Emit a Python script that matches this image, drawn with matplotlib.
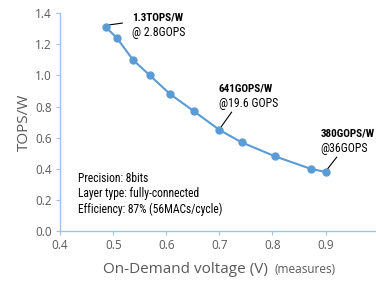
import matplotlib

matplotlib.use("Agg")
import matplotlib.pyplot as plt
from matplotlib import font_manager

# 数据：电压 (V) 与能效 (TOPS/W)
voltage = [0.486, 0.507, 0.537, 0.569, 0.607, 0.652, 0.700, 0.742, 0.805, 0.872, 0.900]
tops_w = [1.31, 1.24, 1.10, 1.00, 0.88, 0.77, 0.65, 0.57, 0.48, 0.40, 0.38]

x_ticks = [0.4, 0.5, 0.6, 0.7, 0.8, 0.9]
y_ticks = [0.0, 0.2, 0.4, 0.6, 0.8, 1.0, 1.2, 1.4]

# 标注文字
note_bold = ["1.3TOPS/W", "641GOPS/W", "380GOPS/W"]
note_plain = ["@ 2.8GOPS", "@19.6 GOPS", "@36GOPS"]
info_lines = [
    "Precision: 8bits",
    "Layer type: fully-connected",
    "Efficiency: 87% (56MACs/cycle)",
]

# 找一个带粗体的窄字体
fonts = font_manager.fontManager.ttflist
narrow = "DejaVu Sans"
for cand in ["Liberation Sans Narrow", "Roboto Condensed", "Archivo Narrow", "Barlow Semi Condensed"]:
    weights = [f.weight for f in fonts if f.name == cand]
    if any(isinstance(w, int) and w >= 700 or w == "bold" for w in weights):
        narrow = cand
        break

line_color = "#5B9BD5"
axis_color = "#9DC3E6"
gray = "#595959"

fig = plt.figure(figsize=(3.76, 2.85), dpi=100)
ax = fig.add_axes([0.16, 0.189, 0.84, 0.765])

ax.plot(voltage, tops_w, color=line_color, linewidth=1.5, marker="o",
        markersize=5, zorder=3)

ax.set_xlim(0.4, 0.995)
ax.set_ylim(0, 1.4)
ax.set_xticks(x_ticks)
ax.set_yticks(y_ticks)
ax.set_xticklabels([f"{v:.1f}" for v in x_ticks], family="Open Sans", fontsize=8.5, color=gray)
ax.set_yticklabels([f"{v:.1f}" for v in y_ticks], family="Open Sans", fontsize=8.5, color=gray)
ax.tick_params(direction="out", length=3, color=axis_color, pad=3)

for side in ["top", "right"]:
    ax.spines[side].set_visible(False)
for side in ["left", "bottom"]:
    ax.spines[side].set_color(axis_color)
    ax.spines[side].set_linewidth(1.0)

ax.set_ylabel("TOPS/W", family="Open Sans", fontsize=11, color=gray, labelpad=2)

fig.text(0.713, 0.028, "On-Demand voltage (V)", family="Open Sans", fontsize=11,
         color=gray, ha="right", va="bottom")
fig.text(0.729, 0.033, "(measures)", family="Open Sans", fontsize=8.5,
         color=gray, ha="left", va="bottom")

# 点标注：文字位置 + 引线 (数据坐标)
text_pos = [(0.535, 1.374), (0.699, 0.918), (0.891, 0.629)]
leaders = [((0.490, 0.517), (1.323, 1.336)),
           ((0.703, 0.723), (0.668, 0.764)),
           ((0.902, 0.921), (0.392, 0.475))]
for bold, plain, (tx, ty), (lx, ly) in zip(note_bold, note_plain, text_pos, leaders):
    ax.text(tx, ty, bold, family=narrow, fontsize=8, fontweight="bold",
            ha="left", va="center")
    ax.text(tx, ty - 0.096, plain, family=narrow, fontsize=8.5,
            ha="left", va="center")
    ax.plot(lx, ly, color="black", linewidth=0.8)

for k, line in enumerate(info_lines):
    ax.text(0.433, 0.34 - k * 0.1, line, family=narrow, fontsize=8.3,
            ha="left", va="center")

plt.savefig("out.png", dpi=100)
